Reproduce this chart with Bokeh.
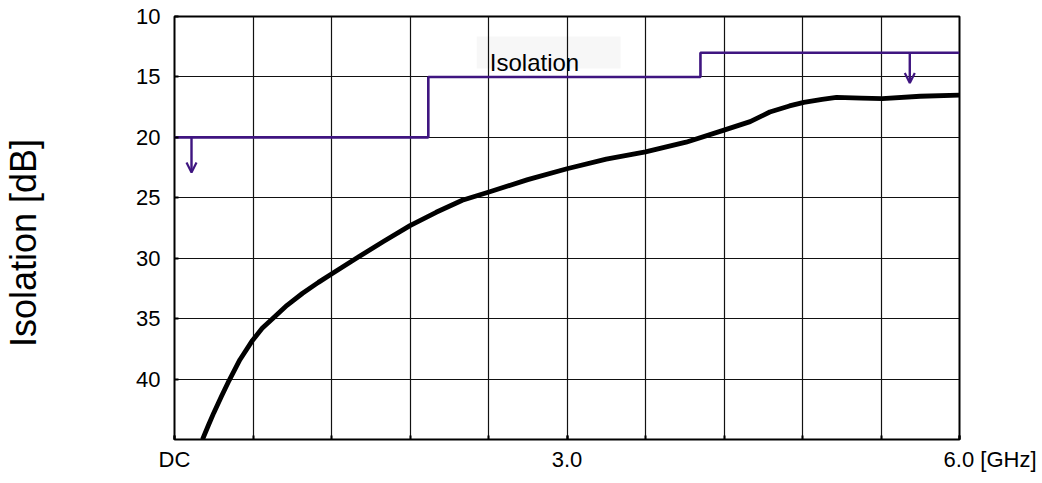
from bokeh.plotting import figure
from bokeh.models import Range1d, FixedTicker, Label, Arrow, OpenHead
from bokeh.embed import file_html
from bokeh.resources import INLINE

# ---- data ----
freq_ghz = [0.214, 0.26, 0.30, 0.36, 0.418, 0.50, 0.596, 0.67, 0.749, 0.86, 0.979,
            1.10, 1.20, 1.39, 1.60, 1.80, 2.00, 2.20, 2.41, 2.70, 3.00, 3.30,
            3.60, 3.91, 4.20, 4.40, 4.55, 4.70, 4.81, 4.95, 5.06, 5.25, 5.41,
            5.70, 6.00]
isolation_db = [45.0, 43.8, 42.8, 41.4, 40.1, 38.4, 36.8, 35.8, 35.0, 33.9, 32.9,
                32.0, 31.3, 30.0, 28.6, 27.3, 26.2, 25.2, 24.5, 23.5, 22.6, 21.8,
                21.2, 20.4, 19.4, 18.7, 17.9, 17.4, 17.1, 16.85, 16.7, 16.75, 16.8,
                16.6, 16.5]

limit_freq = [0.0, 1.94, 1.94, 4.02, 4.02, 6.0]
limit_db = [20, 20, 15, 15, 13, 13]

arrow_freq = [0.13, 5.62]
arrow_start = [20, 13]
arrow_end = [22.9, 15.5]

x_grid_ticks = [0.0, 0.6, 1.2, 1.8, 2.4, 3.0, 3.6, 4.2, 4.8, 5.4, 6.0]
x_label_ticks = [0, 3, 6]
NB = "\u00a0"
x_tick_labels = {0: "DC", 3: "3.0", 6: NB * 10 + "6.0" + NB + "[GHz]"}
y_ticks = [10, 15, 20, 25, 30, 35, 40]
y_grid_ticks = [10, 15, 20, 25, 30, 35, 40, 45]

PURPLE = "#3f1580"
FONT = "Liberation Sans"

p = figure(width=1034, height=479, frame_width=785, frame_height=423,
           x_range=Range1d(0, 6), y_range=Range1d(45, 10),
           output_backend="svg", toolbar_location=None,
           min_border_left=172, min_border_top=16, min_border_right=77,
           min_border_bottom=40)

p.background_fill_color = "white"
p.border_fill_color = "white"
p.outline_line_color = "black"
p.outline_line_width = 2

# grids
p.xgrid.ticker = FixedTicker(ticks=x_grid_ticks)
p.ygrid.ticker = FixedTicker(ticks=y_grid_ticks)
for g in (p.xgrid, p.ygrid):
    g.grid_line_color = "#111111"
    g.grid_line_width = 1.2

# x axis
xa = p.xaxis[0]
xa.ticker = FixedTicker(ticks=x_label_ticks, minor_ticks=x_grid_ticks)
xa.major_label_overrides = x_tick_labels
xa.axis_line_color = None
xa.major_tick_in = 4
xa.major_tick_out = 0
xa.minor_tick_in = 4
xa.minor_tick_out = 0
xa.major_tick_line_width = 2
xa.minor_tick_line_width = 2
xa.major_label_standoff = 7
xa.major_label_text_font = FONT
xa.major_label_text_font_size = "22px"
xa.major_label_text_color = "black"

# y axis
ya = p.yaxis[0]
ya.ticker = FixedTicker(ticks=y_ticks)
ya.axis_line_color = None
ya.major_tick_in = 4
ya.major_tick_out = 0
ya.major_tick_line_width = 2
ya.minor_tick_line_color = None
ya.major_label_standoff = 14
ya.major_label_text_font = FONT
ya.major_label_text_font_size = "22px"
ya.major_label_text_color = "black"
ya.axis_label = "Isolation [dB]" + NB * 3
ya.axis_label_text_font = FONT
ya.axis_label_text_font_size = "36px"
ya.axis_label_text_font_style = "normal"
ya.axis_label_text_color = "black"
ya.axis_label_standoff = 89

# label background box (under grid)
p.quad(left=[2.31], right=[3.41], top=[11.65], bottom=[14.3],
       fill_color="#f7f7f7", line_color=None, level="image")

# limit line
p.line(limit_freq, limit_db, line_color=PURPLE, line_width=2.6)

# arrows
for xf, ys, ye in zip(arrow_freq, arrow_start, arrow_end):
    p.add_layout(Arrow(end=OpenHead(size=10, line_color=PURPLE, line_width=2.2),
                       x_start=xf, y_start=ys, x_end=xf, y_end=ye,
                       line_color=PURPLE, line_width=2.4))

# measured curve
p.line(freq_ghz, isolation_db, line_color="black", line_width=4.8,
       line_join="round")

p.add_layout(Label(x=2.41, y=13.8, text="Isolation", text_font=FONT,
                   text_font_size="24px", text_color="black",
                   text_baseline="alphabetic"))

open("out.html", "w").write(file_html(p, INLINE))
